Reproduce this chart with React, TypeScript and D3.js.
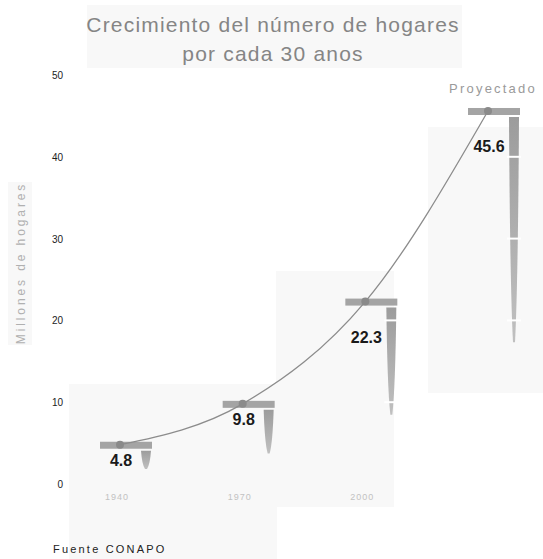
import React from "react";
import * as d3 from "d3";

// Household counts (millions) per 30-year step; the last one is a projection.
const years = ["1940", "1970", "2000", "2030"];
const households = [4.8, 9.8, 22.3, 45.6];
const projected = [false, false, false, true];
const yTicks = [0, 10, 20, 30, 40, 50];

const W = 543;
const H = 559;
const FONT = "'Liberation Sans', Arial, sans-serif";

export default function App() {
  const y = d3.scaleLinear().domain([0, 50]).range([484, 75]);
  const x = d3.scalePoint<string>().domain(years).range([120, 488]);

  const pts = years.map((yr, i) => ({
    year: yr,
    value: households[i],
    proj: projected[i],
    cx: x(yr) as number,
    cy: y(households[i]),
  }));

  const line = d3
    .line<{ cx: number; cy: number }>()
    .x((d) => d.cx)
    .y((d) => d.cy)
    .curve(d3.curveMonotoneX);

  // faint paper tiles behind the groups
  const tiles = [
    { x: 87, y: 5, w: 375, h: 63 },
    { x: 8, y: 182, w: 24, h: 163 },
    { x: 69, y: 384, w: 208, h: 175 },
    { x: 276, y: 271, w: 118, h: 236 },
    { x: 428, y: 127, w: 115, h: 266 },
  ];

  const dripPath = (r: number, top: number, bottom: number) => {
    const h = bottom - top;
    return [
      `M${r - 10},${top}`,
      `L${r},${top}`,
      `Q${r - 1},${top + h * 0.75} ${r - 4},${bottom}`,
      `L${r - 6},${bottom}`,
      `Q${r - 9},${top + h * 0.75} ${r - 10},${top}`,
      "Z",
    ].join(" ");
  };

  return (
    <svg
      width={W}
      height={H}
      viewBox={`0 0 ${W} ${H}`}
      style={{ position: "absolute", left: 0, top: 0, background: "#ffffff" }}
    >
      <defs>
        <linearGradient id="drip" x1="0" y1="0" x2="0" y2="1">
          <stop offset="0" stopColor="#9c9c9c" />
          <stop offset="1" stopColor="#c0c0c0" />
        </linearGradient>
      </defs>

      {tiles.map((t, i) => (
        <rect key={i} x={t.x} y={t.y} width={t.w} height={t.h} fill="#f8f8f8" />
      ))}

      {/* title */}
      <text
        x={273}
        y={32}
        textAnchor="middle"
        fontFamily={FONT}
        fontSize={21}
        letterSpacing={1.2}
        fill="#858585"
      >
        Crecimiento del número de hogares
      </text>
      <text
        x={273}
        y={61}
        textAnchor="middle"
        fontFamily={FONT}
        fontSize={21}
        letterSpacing={1.2}
        fill="#858585"
      >
        por cada 30 anos
      </text>

      {/* y axis title */}
      <text
        transform={`translate(25,263) rotate(-90)`}
        textAnchor="middle"
        fontFamily={FONT}
        fontSize={12}
        letterSpacing={2.9}
        fill="#b0b0b0"
      >
        Millones de hogares
      </text>

      {/* y tick labels */}
      {yTicks.map((t) => (
        <text
          key={t}
          x={63}
          y={y(t) + 4}
          textAnchor="end"
          fontFamily={FONT}
          fontSize={10}
          fill="#1c1c1c"
        >
          {t}
        </text>
      ))}

      {/* bars: top slab plus tapering drip on the right */}
      {pts.map((p) => {
        const top = p.cy;
        const bottom = y(p.value * 0.38);
        const r = p.cx + 31;
        return (
          <g key={p.year}>
            <rect x={p.cx - 20} y={top - 3} width={52} height={7} fill="#a4a4a4" />
            <path d={dripPath(r, top + 6, bottom)} fill="url(#drip)" />
            {/* white grid rules showing through the drip */}
            {yTicks
              .filter((t) => y(t) > top + 6 && y(t) < bottom)
              .map((t) => (
                <line
                  key={t}
                  x1={r - 12}
                  x2={r + 2}
                  y1={y(t)}
                  y2={y(t)}
                  stroke="#ffffff"
                  strokeWidth={2}
                />
              ))}
          </g>
        );
      })}

      {/* growth line */}
      <path d={line(pts) ?? ""} fill="none" stroke="#8c8c8c" strokeWidth={1.3} />
      {pts.map((p) => (
        <circle key={p.year} cx={p.cx} cy={p.cy} r={4} fill="#8a8a8a" />
      ))}

      {/* value labels */}
      {pts.map((p) => (
        <text
          key={p.year}
          x={p.cx + 1}
          y={p.cy + (p.value < 15 ? 21 : 41)}
          textAnchor="middle"
          fontFamily={FONT}
          fontSize={16}
          fontWeight="bold"
          fill="#1a1a1a"
        >
          {p.value.toFixed(1)}
        </text>
      ))}

      {/* projection label */}
      {pts
        .filter((p) => p.proj)
        .map((p) => (
          <text
            key={p.year}
            x={p.cx + 5}
            y={p.cy - 18}
            textAnchor="middle"
            fontFamily={FONT}
            fontSize={13}
            letterSpacing={2.2}
            fill="#9a9a9a"
          >
            Proyectado
          </text>
        ))}

      {/* x axis labels (historical years only) */}
      {pts
        .filter((p) => !p.proj)
        .map((p) => (
          <text
            key={p.year}
            x={p.cx - 3}
            y={500}
            textAnchor="middle"
            fontFamily={FONT}
            fontSize={9}
            letterSpacing={1}
            fill="#c2c2c2"
          >
            {p.year}
          </text>
        ))}

      {/* source */}
      <text
        x={53}
        y={553}
        fontFamily={FONT}
        fontSize={11}
        letterSpacing={2.2}
        fill="#222222"
      >
        Fuente  CONAPO
      </text>
    </svg>
  );
}
